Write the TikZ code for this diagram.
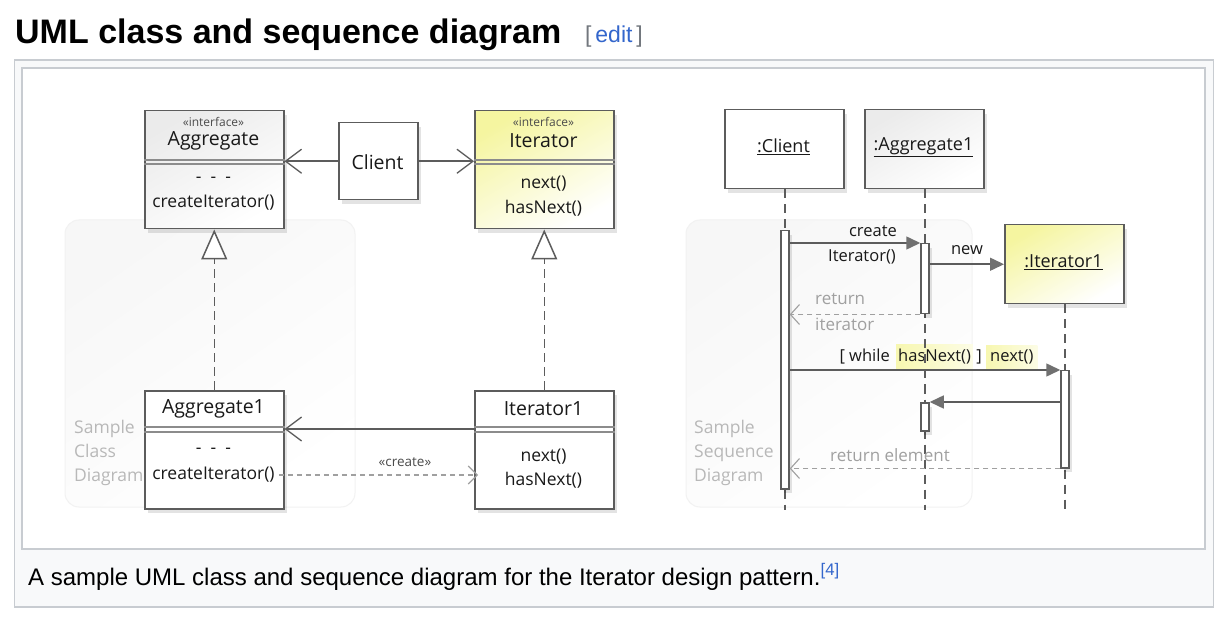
\documentclass[tikz,border=0pt]{standalone}
\usepackage{fontspec}
\setmainfont{Open Sans}
\newfontfamily\wfont{Liberation Sans}
\newfontfamily\dfont{Open Sans}
\usetikzlibrary{arrows.meta,shadows,calc}
\definecolor{lg}{HTML}{5C5C5C}
\definecolor{dl}{HTML}{8C8C8C}
\definecolor{frameb}{HTML}{C8CCD1}
\definecolor{framef}{HTML}{F8F9FA}
\definecolor{wlink}{HTML}{3366CC}
\definecolor{brk}{HTML}{72777D}
\definecolor{samp}{HTML}{B8B8B8}
\definecolor{retc}{HTML}{A0A0A0}
\definecolor{yel}{HTML}{F5F5A0}
\definecolor{hlA}{HTML}{F7F7B0}
\definecolor{hlB}{HTML}{FCFCE6}
\definecolor{agray}{HTML}{EBEBEB}
\definecolor{arrf}{HTML}{707070}
\definecolor{sbg}{HTML}{F7F7F7}
\definecolor{sbd}{HTML}{F2F2F2}
\begin{document}
\begin{tikzpicture}[x=1pt,y=-1pt,
  shadowed/.style={drop shadow={shadow xshift=3pt,shadow yshift=-4pt,opacity=0.11,fill=black}},
  box/.style={draw=lg,line width=1.5pt,inner sep=0pt,fill=white,shadowed},
  graybox/.style={box,top color=agray,bottom color=white,shading angle=30},
  yelbox/.style={box,top color=yel,bottom color=white,shading angle=30},
  dtxt/.style={font=\dfont\fontsize{17.5}{20}\selectfont,inner sep=0pt,text=black!90},
  ntxt/.style={font=\dfont\fontsize{19.5}{22}\selectfont,inner sep=0pt,text=black!90},
  stxt/.style={font=\dfont\fontsize{12}{13}\selectfont,inner sep=0pt,text=black!70},
  sample/.style={font=\dfont\fontsize{17.5}{24}\selectfont,inner sep=0pt,text=samp,align=left},
  otxt/.style={font=\dfont\fontsize{18}{20}\selectfont,inner sep=0pt,text=black!90},
  qtxt/.style={font=\dfont\fontsize{16.5}{19}\selectfont,inner sep=0pt,text=black!90},
  rtxt/.style={font=\dfont\fontsize{17}{19}\selectfont,inner sep=0pt,text=retc},
  sepline/.style={draw=dl,line width=1.1pt},
  sampbg/.style={draw=sbd,line width=1pt,rounded corners=14pt,top color=sbg,bottom color=white,shading angle=35},
  assoc/.style={draw=lg,line width=1.6pt,-{Straight Barb[length=16pt,width=24pt,line width=1.3pt]}},
  realiz/.style={draw=lg,line width=1.5pt,dash pattern=on 9pt off 5pt,-{Triangle[open,length=30pt,width=26pt,line width=1.5pt,fill=white]}},
  depend/.style={draw=retc,line width=1.2pt,dash pattern=on 5pt off 4pt,-{Straight Barb[length=9pt,width=18pt,line width=1.1pt]}},
  life/.style={draw=lg,line width=1.5pt,dash pattern=on 9pt off 6pt},
  act/.style={draw=lg,line width=1.5pt,fill=white,minimum width=8pt,inner sep=0pt,anchor=north,shadowed},
  sync/.style={draw=lg,line width=1.5pt,-{Triangle[length=14pt,width=13pt,fill=arrf,color=arrf]}},
  retn/.style={draw=retc,line width=1.2pt,dash pattern=on 5pt off 4pt,-{Straight Barb[length=9pt,width=20pt,line width=1.1pt]}},
  hl/.style={left color=hlA,right color=hlB,inner xsep=2pt,inner ysep=5pt,font=\dfont\fontsize{16.5}{19}\selectfont,text=black!90}
]
\useasboundingbox (0,0) rectangle (1216,620);
\fill[white] (0,0) rectangle (1216,620);

% page title and frame
\node[anchor=base west,inner sep=0pt,font=\wfont\bfseries\fontsize{34}{40}\selectfont] (title) at (15,44) {UML class and sequence diagram};
\node[anchor=base west,inner sep=0pt,font=\wfont\fontsize{23}{26}\selectfont] (edit) at (585,43) {\textcolor{brk}{[}\,\textcolor{wlink}{edit}\,\textcolor{brk}{]}};
\draw[frameb,fill=framef,line width=1.5pt] (14.5,60) rectangle (1213.5,607);
\draw[frameb,fill=white,line width=1.5pt] (22,68) rectangle (1205,549);
\node[anchor=base west,inner sep=0pt,font=\wfont\fontsize{24}{27}\selectfont] (cap) at (28,585) {A sample UML class and sequence diagram for the Iterator design pattern.\textsuperscript{\textcolor{wlink}{[4]}}};

% sample backgrounds
\path[sampbg] (65,220) rectangle (355,507);
\path[sampbg] (686,220) rectangle (972,507);
\node[sample,anchor=north west] (sc1) at (74,420) {Sample\\Class\\Diagram};
\node[sample,anchor=north west] (sc2) at (694,420) {Sample\\Sequence\\Diagram};

% ---------------- class diagram ----------------
\node[graybox,minimum width=139pt,minimum height=118pt,anchor=north west] (agg) at (144,110) {};
\node[stxt] (aggst) at (213.5,122) {«interface»};
\node[ntxt] (aggn) at (213.5,141) {Aggregate};
\draw[sepline] ([yshift=-50pt]agg.north west) -- ([yshift=-50pt]agg.north east);
\draw[sepline] ([yshift=-54pt]agg.north west) -- ([yshift=-54pt]agg.north east);
\node[dtxt] (aggd) at (213.5,180) {-\ \ -\ \ -};
\node[dtxt] (aggm) at (213.5,203) {createIterator()};

\node[box,minimum width=79pt,minimum height=77pt,anchor=north west] (cl) at (338,122) {};
\node[ntxt] (cln) at (377.5,162) {Client};

\node[yelbox,minimum width=139pt,minimum height=118pt,anchor=north west] (it) at (474,110) {};
\node[stxt] (itst) at (543.5,122) {«interface»};
\node[ntxt] (itn) at (543.5,141) {Iterator};
\draw[sepline] ([yshift=-50pt]it.north west) -- ([yshift=-50pt]it.north east);
\draw[sepline] ([yshift=-54pt]it.north west) -- ([yshift=-54pt]it.north east);
\node[dtxt] (itm1) at (543.5,184) {next()};
\node[dtxt] (itm2) at (543.5,208) {hasNext()};

\node[box,minimum width=139pt,minimum height=118pt,anchor=north west] (agg1) at (144,390) {};
\node[ntxt] (agg1n) at (213.5,409) {Aggregate1};
\draw[sepline] ([yshift=-37pt]agg1.north west) -- ([yshift=-37pt]agg1.north east);
\draw[sepline] ([yshift=-42pt]agg1.north west) -- ([yshift=-42pt]agg1.north east);
\node[dtxt] (agg1d) at (213.5,451) {-\ \ -\ \ -};
\node[dtxt] (agg1m) at (213.5,475) {createIterator()};

\node[box,minimum width=139pt,minimum height=118pt,anchor=north west] (it1) at (474,390) {};
\node[ntxt] (it1n) at (543.5,409) {Iterator1};
\draw[sepline] ([yshift=-37pt]it1.north west) -- ([yshift=-37pt]it1.north east);
\draw[sepline] ([yshift=-42pt]it1.north west) -- ([yshift=-42pt]it1.north east);
\node[dtxt] (it1m1) at (543.5,457) {next()};
\node[dtxt] (it1m2) at (543.5,480) {hasNext()};

\draw[assoc] (cl.west) -- (cl.west -| agg.east);
\draw[assoc] (cl.east) -- (cl.east -| it.west);
\draw[realiz] (agg1.north) -- (agg.south);
\draw[realiz] (it1.north) -- (it.south);
\draw[assoc] ([yshift=-39pt]it1.north west) -- ([yshift=-39pt]agg1.north east);
\draw[depend] ([xshift=4pt]agg1m.east) -- ([xshift=4pt]agg1m.east -| it1.west);
\node[font=\dfont\fontsize{13.5}{15}\selectfont,inner sep=0pt,text=black!70] (crl) at (405,462) {«create»};

% ---------------- sequence diagram ----------------
\node[hl,anchor=base west] (hn) at (896,362) {hasNext()};
\node[qtxt,anchor=base east] (wh) at ([xshift=-6pt]hn.base west) {[ while};
\node[qtxt,anchor=base west] (br) at ([xshift=3pt]hn.base east) {]};
\node[hl,anchor=base west,inner xsep=4pt] (nx) at (986,362) {next()};

\node[box,minimum width=119pt,minimum height=79pt,anchor=north west] (sc) at (724,109) {};
\node[otxt] (scn) at (783.5,147) {\underline{:Client}};
\node[graybox,minimum width=119pt,minimum height=79pt,anchor=north west] (sa) at (864,109) {};
\node[otxt] (san) at (923.5,147) {\underline{:Aggregate1}};
\node[yelbox,minimum width=119pt,minimum height=79pt,anchor=north west] (si) at (1004,224) {};
\node[otxt] (sin) at (1063.5,262) {\underline{:Iterator1}};

\coordinate (scend) at (785,510);
\coordinate (saend) at (925,510);
\coordinate (siend) at (1065,510);
\draw[life] (sc.south -| scend) -- (scend);
\draw[life] (sa.south -| saend) -- (saend);
\draw[life] (si.south -| siend) -- (siend);

\node[act,minimum height=258pt] (acl) at (785,230) {};
\node[act,minimum height=70pt] (aa1) at (925,243) {};
\node[act,minimum height=28pt] (aa2) at (925,402) {};
\node[act,minimum height=97pt] (ai) at (1065,370) {};

\draw[sync] (acl.east |- aa1.north west) -- (aa1.north west);
\draw[sync] (aa1.east |- si.west) -- (si.west);
\draw[retn] (aa1.south west) -- (acl.east |- aa1.south west);
\draw[sync] (acl.east |- ai.north west) -- (ai.north west);
\draw[sync] (ai.west |- aa2.north east) -- (aa2.north east);
\draw[retn] (ai.south west) -- (acl.east |- ai.south west);

\node[qtxt] (m1a) at (873,231) {create};
\node[qtxt] (m1b) at (862,257) {Iterator()};
\node[qtxt] (m2) at (967,250) {new};
\node[rtxt,anchor=west] (r1a) at (815,299) {return};
\node[rtxt,anchor=west] (r1b) at (815,324) {iterator};
\node[rtxt] (r2) at (890,455) {return element};
\end{tikzpicture}
\end{document}
